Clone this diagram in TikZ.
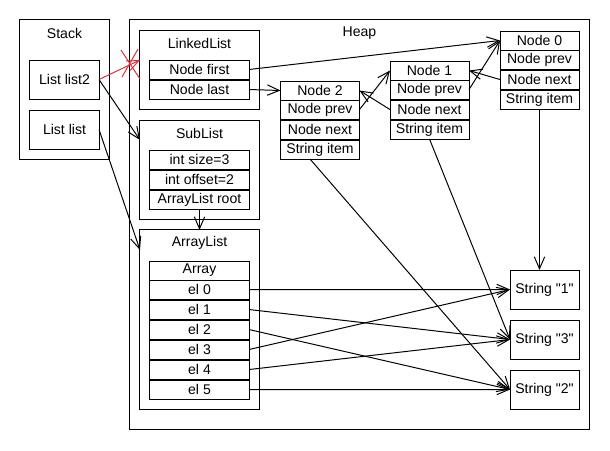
\documentclass[tikz,border=0pt]{standalone}
\usepackage{fontspec}
\setmainfont{Liberation Sans}[Ligatures=TeXOff]
\usetikzlibrary{arrows.meta,positioning,calc}
\definecolor{cutred}{RGB}{225,45,55}

\begin{document}
\begin{tikzpicture}[
    x=0.025cm, y=-0.025cm,
    line width=0.7pt,
    font=\fontsize{10}{12}\selectfont,
    box/.style={draw, inner sep=0pt, outer sep=0pt},
    fld/.style={box, minimum width=2.475cm, minimum height=0.475cm},
    nfld/.style={box, minimum width=1.975cm, minimum height=0.475cm},
    sbox/.style={box, minimum width=1.725cm, minimum height=0.975cm},
    ttl/.style={inner sep=0pt},
    arr/.style={-{Straight Barb[length=0.3cm, width=0.26cm]}}
]
\useasboundingbox[fill=white] (0,0) rectangle (610,450);

% stack and heap
\node[box, minimum width=11.475cm, minimum height=10.225cm] (heap) at (359.5,224.5) {};
\node[ttl] at ($(heap.north)+(0,13)$) {Heap};
\node[box, minimum width=2.225cm, minimum height=3.475cm] (stack) at (64.5,89.5) {};
\node[ttl] at ($(stack.north)+(0,13)$) {Stack};
\node[sbox] (list2) at (64.5,79.5) {List list2};
\node[sbox] (list) at (64.5,129.5) {List list};

% LinkedList
\node[box, minimum width=2.975cm, minimum height=1.975cm] (linked) at (199.5,69.5) {};
\node[ttl] at ($(linked.north)+(0,13)$) {LinkedList};
\node[fld] (first) at (199.5,69.5) {Node first};
\node[fld, below=0.025cm of first] (last) {Node last};

% SubList
\node[box, minimum width=2.975cm, minimum height=2.475cm] (sub) at (199.5,169.5) {};
\node[ttl] at ($(sub.north)+(0,13)$) {SubList};
\node[fld] (size) at (199.5,159.5) {int size=3};
\node[fld, below=0.025cm of size] (offset) {int offset=2};
\node[fld, below=0.025cm of offset] (root) {ArrayList root};

% ArrayList
\node[box, minimum width=2.975cm, minimum height=4.475cm] (arr) at (199.5,319.5) {};
\node[ttl] at ($(arr.north)+(0,13)$) {ArrayList};
\node[fld] (array) at (199.5,270.5) {Array};
\node[fld, below=0pt of array] (el0) {el 0};
\node[fld, below=0.025cm of el0] (el1) {el 1};
\node[fld, below=0.025cm of el1] (el2) {el 2};
\node[fld, below=0.025cm of el2] (el3) {el 3};
\node[fld, below=0.025cm of el3] (el4) {el 4};
\node[fld, below=0.025cm of el4] (el5) {el 5};

% linked nodes
\node[nfld] (n2head) at (320,90.5) {Node 2};
\node[nfld, below=0pt of n2head] (n2prev) {Node prev};
\node[nfld, below=0.025cm of n2prev] (n2next) {Node next};
\node[nfld, below=0.025cm of n2next] (n2item) {String item};

\node[nfld] (n1head) at (429.5,70.5) {Node 1};
\node[nfld, below=0pt of n1head] (n1prev) {Node prev};
\node[nfld, below=0.025cm of n1prev] (n1next) {Node next};
\node[nfld, below=0.025cm of n1next] (n1item) {String item};

\node[nfld] (n0head) at (539.5,40.5) {Node 0};
\node[nfld, below=0pt of n0head] (n0prev) {Node prev};
\node[nfld, below=0.025cm of n0prev] (n0next) {Node next};
\node[nfld, below=0.025cm of n0next] (n0item) {String item};

% strings
\node[sbox] (s1) at (544.5,289.5) {String "1"};
\node[sbox] (s3) at (544.5,339.5) {String "3"};
\node[sbox] (s2) at (544.5,389.5) {String "2"};

% references
\draw[arr, cutred] (list2.east) -- ($(linked.north west)+(0,30)$);
\coordinate (cut) at (130,63);
\draw[cutred] ($(cut)+(-9,-13)$) -- ($(cut)+(10,16)$)
              ($(cut)+(8,-14)$) -- ($(cut)+(-8,14)$);
\draw[arr] (list2.east) -- ($(sub.north west)+(0,20)$);
\draw[arr] (list.east) -- ($(arr.north west)+(0,20)$);
\draw[arr] (root.south) -- (arr.north);

\draw[arr] (first.east) -- (n0head.west);
\draw[arr] (last.east) -- (n2head.west);
\draw[arr] (n2prev.east) -- (n1head.west);
\draw[arr] (n1next.west) -- (n2head.east);
\draw[arr] (n1prev.east) -- (n0head.west);
\draw[arr] (n0next.west) -- (n1head.east);

\draw[arr] (n0item.south) -- (n0item.south |- s1.north);
\draw[arr] (n1item.south) -- (s3.west);
\draw[arr] ($(n2item.south)+(-10,0)$) -- (s2.west);

\draw[arr] (el0.east) -- (s1.west);
\draw[arr] (el1.east) -- (s3.west);
\draw[arr] (el2.east) -- (s2.west);
\draw[arr] (el3.east) -- (s1.west);
\draw[arr] (el4.east) -- (s3.west);
\draw[arr] (el5.east) -- (s2.west);
\end{tikzpicture}
\end{document}
